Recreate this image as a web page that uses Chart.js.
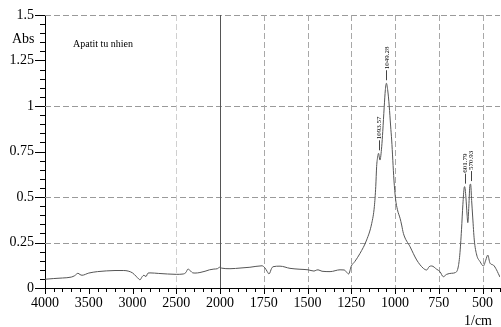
<!DOCTYPE html>
<html>
<head>
<meta charset="utf-8">
<script src="https://cdn.jsdelivr.net/npm/chart.js@4.4.1/dist/chart.umd.min.js"></script>
<style>
  html, body { margin: 0; padding: 0; background: #fff; }
  #wrap { width: 501px; height: 327px; }
</style>
</head>
<body>
<div id="wrap"><canvas id="myChart" width="501" height="327"></canvas></div>
<script>
// spectrum (wavenumber 1/cm, absorbance)
const wavenumbers = [
  4000, 3900, 3800, 3700, 3660, 3623, 3600, 3577, 3500, 3400, 3300, 3200, 3100, 3050,
  3000, 2960, 2930, 2914, 2890, 2870, 2846, 2823, 2800, 2700, 2600, 2500, 2420, 2390,
  2366, 2340, 2310, 2286, 2229, 2171, 2120, 2070, 2030, 2005, 1990, 1943, 1880, 1829,
  1760, 1743, 1730, 1720, 1705, 1697, 1657, 1600, 1543, 1497, 1463, 1450, 1440, 1417,
  1371, 1314, 1290, 1275, 1265, 1250, 1230, 1200, 1162, 1133, 1118, 1110, 1105, 1099,
  1094, 1086, 1076, 1070, 1062, 1055, 1049, 1042, 1033, 1025, 1019, 1006, 997, 986,
  971, 962, 952, 914, 876, 838, 819, 805, 790, 762, 743, 724, 705, 676, 657, 640, 630,
  620, 612, 605, 602, 595, 588, 584, 578, 572, 568, 562, 556, 547, 533, 514, 495, 481,
  470, 457, 438, 420, 410, 400
];
const absorbance = [
  0.048, 0.052, 0.055, 0.06, 0.068, 0.081, 0.074, 0.07, 0.082, 0.09, 0.094, 0.096, 0.096, 0.093,
  0.083, 0.065, 0.05, 0.045, 0.062, 0.07, 0.063, 0.082, 0.083, 0.08, 0.077, 0.075, 0.077, 0.085,
  0.104, 0.095, 0.083, 0.082, 0.085, 0.092, 0.1, 0.104, 0.106, 0.114, 0.109, 0.106, 0.11, 0.114,
  0.122, 0.11, 0.09, 0.077, 0.108, 0.117, 0.12, 0.108, 0.103, 0.1, 0.093, 0.098, 0.1, 0.092,
  0.09, 0.1, 0.099, 0.085, 0.077, 0.12, 0.145, 0.19, 0.264, 0.355, 0.447, 0.557, 0.667, 0.72,
  0.74, 0.703, 0.776, 0.86, 0.99, 1.09, 1.125, 1.09, 1.0, 0.89, 0.813, 0.593, 0.49, 0.43,
  0.383, 0.346, 0.3, 0.227, 0.154, 0.108, 0.099, 0.117, 0.121, 0.103, 0.09, 0.062, 0.075, 0.081, 0.084, 0.11, 0.18,
  0.32, 0.46, 0.55, 0.557, 0.5, 0.4, 0.359, 0.45, 0.565, 0.571, 0.48, 0.39, 0.264, 0.181, 0.145, 0.121, 0.154,
  0.181, 0.136, 0.126, 0.1, 0.08, 0.06
];

const peakLabels = ["1093.57", "1049.28", "601.79", "570.93"];
const peakWn = [1094, 1049, 602, 568];
const peakAbs = [0.74, 1.125, 0.557, 0.571];

const xTickLabels = [4000, 3500, 3000, 2500, 2000, 1750, 1500, 1250, 1000, 750, 500];
const yTickLabels = [0, 0.25, 0.5, 0.75, 1, 1.25, 1.5];
const xGridLines = [2500, 1750, 1500, 1250, 1000, 750, 500];
const yGridLines = [0.25, 0.5, 1, 1.5];

const serif = "'Liberation Serif', 'Times New Roman', serif";

// above 2000 1/cm the axis is compressed by half
function toAxis(wn) {
  return wn > 2000 ? 2000 + (wn - 2000) / 2 : wn;
}
function fromAxis(u) {
  return u > 2000 ? 2000 + (u - 2000) * 2 : u;
}

const points = wavenumbers.map((wn, i) => ({ x: toAxis(wn), y: absorbance[i] }));

Chart.defaults.font.family = serif;
Chart.defaults.color = "#000";

const decorations = {
  id: "decorations",
  beforeDatasetsDraw(chart) {
    const { ctx, chartArea, scales } = chart;
    const xs = scales.x, ys = scales.y;
    ctx.save();
    ctx.lineWidth = 1;
    // horizontal grid
    ctx.setLineDash([6, 3]);
    ctx.strokeStyle = "#9a9a9a";
    yGridLines.forEach((v) => {
      const y = Math.round(ys.getPixelForValue(v)) + 0.5;
      ctx.beginPath();
      ctx.moveTo(chartArea.left, y);
      ctx.lineTo(chartArea.right, y);
      ctx.stroke();
    });
    // vertical grid
    xGridLines.forEach((wn) => {
      const x = Math.round(xs.getPixelForValue(toAxis(wn))) + 0.5;
      ctx.strokeStyle = wn === 2500 ? "#cfcfcf" : "#a8a8a8";
      ctx.beginPath();
      ctx.moveTo(x, chartArea.top);
      ctx.lineTo(x, chartArea.bottom);
      ctx.stroke();
    });
    ctx.setLineDash([]);
    // scale break at 2000
    const xb = Math.round(xs.getPixelForValue(2000)) + 0.5;
    ctx.strokeStyle = "#555";
    ctx.beginPath();
    ctx.moveTo(xb, chartArea.top);
    ctx.lineTo(xb, chartArea.bottom);
    ctx.stroke();

    // tick marks
    ctx.strokeStyle = "#000";
    for (let u = 400; u <= 3000; u += 50) {
      const x = Math.round(xs.getPixelForValue(u)) + 0.5;
      const len = u % 250 === 0 ? 6 : 4;
      ctx.beginPath();
      ctx.moveTo(x, chartArea.bottom);
      ctx.lineTo(x, chartArea.bottom + len);
      ctx.stroke();
    }
    for (let k = 0; k <= 30; k++) {
      const v = k * 0.05;
      const y = Math.round(ys.getPixelForValue(v)) + 0.5;
      const len = k % 5 === 0 ? 10 : 5;
      ctx.beginPath();
      ctx.moveTo(chartArea.left - len, y);
      ctx.lineTo(chartArea.left, y);
      ctx.stroke();
    }
    ctx.restore();
  },
  afterDatasetsDraw(chart) {
    const { ctx, scales } = chart;
    const xs = scales.x, ys = scales.y;
    ctx.save();
    ctx.fillStyle = "#000";
    ctx.strokeStyle = "#444";
    ctx.lineWidth = 1;
    ctx.font = "7px " + serif;
    peakLabels.forEach((lab, i) => {
      const x = xs.getPixelForValue(toAxis(peakWn[i]));
      const y = ys.getPixelForValue(peakAbs[i]);
      ctx.beginPath();
      ctx.moveTo(Math.round(x) + 0.5, y - 3);
      ctx.lineTo(Math.round(x) + 0.5, y - 13);
      ctx.stroke();
      ctx.save();
      ctx.translate(x + 2.5, y - 14);
      ctx.rotate(-Math.PI / 2);
      ctx.textAlign = "left";
      ctx.textBaseline = "alphabetic";
      ctx.fillText(lab, 0, 0);
      ctx.restore();
    });
    ctx.font = "14px " + serif;
    ctx.textBaseline = "middle";
    ctx.textAlign = "left";
    ctx.fillText("Abs", 12, 39);
    ctx.fillText("1/cm", 464, 321);
    ctx.font = "10px " + serif;
    ctx.fillText("Apatit tu nhien", 73, 44);
    ctx.restore();
  }
};

const chart = new Chart(document.getElementById("myChart").getContext("2d"), {
  type: "line",
  data: {
    datasets: [{
      data: points,
      borderColor: "#555",
      borderWidth: 1,
      pointRadius: 0,
      cubicInterpolationMode: "monotone",
      fill: false
    }]
  },
  options: {
    responsive: false,
    animation: false,
    devicePixelRatio: 1,
    layout: { padding: { top: 15, right: 1, left: 0, bottom: 0 } },
    plugins: { legend: { display: false }, tooltip: { enabled: false } },
    scales: {
      x: {
        type: "linear",
        reverse: true,
        min: 400,
        max: 3000,
        afterBuildTicks: (scale) => {
          scale.ticks = xTickLabels.map((wn) => ({ value: toAxis(wn) }));
        },
        afterFit: (scale) => {
          scale.height = 39;
          scale.paddingLeft = 0;
          scale.paddingRight = 0;
        },
        ticks: {
          autoSkip: false,
          maxRotation: 0,
          padding: 7,
          font: { size: 14, family: serif },
          callback: (v) => String(fromAxis(v))
        },
        grid: { display: false, drawTicks: false },
        border: { display: true, color: "#000", width: 1 }
      },
      y: {
        min: 0,
        max: 1.5,
        afterBuildTicks: (scale) => {
          scale.ticks = yTickLabels.map((v) => ({ value: v }));
        },
        afterFit: (scale) => {
          scale.width = 45;
          scale.paddingTop = 0;
          scale.paddingBottom = 0;
        },
        ticks: {
          padding: 11,
          font: { size: 14, family: serif },
          callback: (v) => String(v)
        },
        grid: { display: false, drawTicks: false },
        border: { display: true, color: "#000", width: 1 }
      }
    }
  },
  plugins: [decorations]
});
</script>
</body>
</html>
